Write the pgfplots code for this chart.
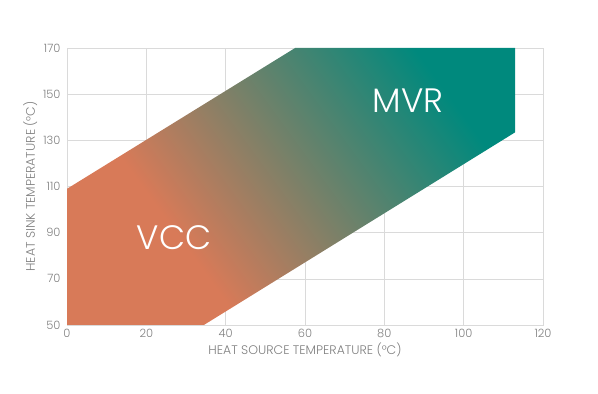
\documentclass[border=0pt]{standalone}
\usepackage{pgfplots}
\pgfplotsset{compat=1.18}
\usepackage{fontspec}
\setmainfont{Poppins Light}
\definecolor{vcc}{RGB}{216,122,88}
\definecolor{mvr}{RGB}{0,137,125}
\definecolor{gridc}{RGB}{218,218,218}
\definecolor{txtc}{RGB}{128,128,128}
\pgfdeclarehorizontalshading{vccmvr}{100bp}{color(0bp)=(vcc); color(34bp)=(vcc); color(74bp)=(mvr); color(100bp)=(mvr)}
\begin{document}
\begin{tikzpicture}
\begin{axis}[
  scale only axis, width=476bp, height=277bp,
  xmin=0, xmax=120, ymin=50, ymax=170,
  xtick={0,20,...,120}, ytick={50,70,...,170},
  grid=major, major grid style={gridc, line width=0.6pt},
  axis line style={gridc, line width=0.6pt},
  tick style={draw=none},
  ticklabel style={font=\fontsize{11.5}{13}\selectfont, text=txtc},
  yticklabel style={xshift=-3pt},
  xticklabel style={yshift=-1pt},
  /pgf/number format/assume math mode=true,
  xlabel={HEAT SOURCE TEMPERATURE (°C)},
  ylabel={HEAT SINK TEMPERATURE (°C)},
  label style={font=\fontsize{12.5}{14}\selectfont, text=txtc},
  xlabel style={yshift=2pt},
  ylabel style={yshift=-1pt},
]
\addplot[draw=none, shade, shading=vccmvr, shading angle=36] coordinates {
 (0,50) (0,109) (57.5,170) (113,170) (113,133.5) (34.5,50)
} -- cycle;
\node[text=white, font=\fontsize{34}{40}\selectfont] at (axis cs:27,88) {VCC};
\node[text=white, font=\fontsize{34}{40}\selectfont] at (axis cs:86,147) {MVR};
\end{axis}
\path[use as bounding box] ([shift={(-67bp,-69bp)}]current axis.south west) rectangle ([shift={(531bp,325bp)}]current axis.south west);
\end{tikzpicture}
\end{document}
